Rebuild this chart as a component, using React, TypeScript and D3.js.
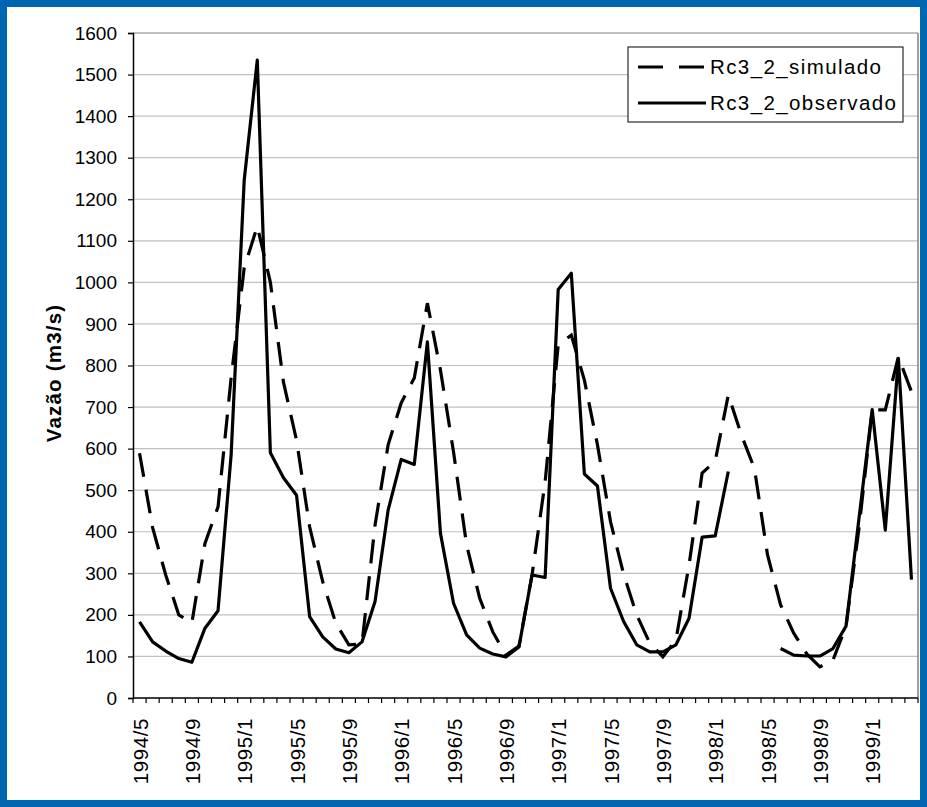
import React, { useRef, useEffect } from 'react';
import * as d3 from 'd3';

const months = [
  '1994/5', '1994/6', '1994/7', '1994/8', '1994/9', '1994/10', '1994/11', '1994/12',
  '1995/1', '1995/2', '1995/3', '1995/4', '1995/5', '1995/6', '1995/7', '1995/8',
  '1995/9', '1995/10', '1995/11', '1995/12', '1996/1', '1996/2', '1996/3', '1996/4',
  '1996/5', '1996/6', '1996/7', '1996/8', '1996/9', '1996/10', '1996/11', '1996/12',
  '1997/1', '1997/2', '1997/3', '1997/4', '1997/5', '1997/6', '1997/7', '1997/8',
  '1997/9', '1997/10', '1997/11', '1997/12', '1998/1', '1998/2', '1998/3', '1998/4',
  '1998/5', '1998/6', '1998/7', '1998/8', '1998/9', '1998/10', '1998/11', '1998/12',
  '1999/1', '1999/2', '1999/3', '1999/4',
];

const tickLabels = [
  '1994/5', '1994/9', '1995/1', '1995/5', '1995/9', '1996/1', '1996/5', '1996/9',
  '1997/1', '1997/5', '1997/9', '1998/1', '1998/5', '1998/9', '1999/1',
];

const simulado = [
  589, 410, 296, 200, 181, 372, 460, 770, 1035, 1135,
  1000, 760, 620, 412, 280, 180, 128, 130, 416, 609,
  710, 770, 950, 789, 592, 368, 240, 159, 103, 125,
  296, 520, 850, 873, 765, 609, 424, 298, 200, 132,
  99, 140, 320, 541, 570, 729, 633, 552, 344, 224,
  156, 106, 75, 91, 173, 411, 693, 693, 821, 737,
];

const observado = [
  183, 135, 113, 95, 86, 168, 210, 585, 1246, 1535,
  590, 530, 488, 196, 147, 118, 109, 135, 232, 452,
  574, 562, 857, 396, 228, 152, 120, 106, 99, 123,
  296, 290, 983, 1022, 539, 510, 264, 184, 128, 111,
  111, 128, 192, 387, 390, 545, null, null, null, 119,
  103, 101, 101, 119, 173, 435, 694, 404, 817, 285,
];

const yTicks = d3.range(0, 1700, 100);

const FONT = '"Liberation Sans", Arial, sans-serif';

const Chart = () => {
  const svgRef = useRef<SVGSVGElement>(null);

  useEffect(() => {
    const svg = d3.select(svgRef.current);
    svg.selectAll('*').remove();

    const left = 133, right = 918, top = 33, bottom = 698;

    // background
    svg.append('rect').attr('width', 927).attr('height', 807).attr('fill', '#0066b2');
    svg.append('rect').attr('x', 7).attr('y', 7).attr('width', 913).attr('height', 793).attr('fill', '#fff');

    const x = d3.scaleBand<string>().domain(months).range([left, right]).padding(0);
    const y = d3.scaleLinear().domain([0, 1600]).range([bottom, top]);
    const cx = (m: string) => (x(m) as number) + x.bandwidth() / 2;

    // grid
    svg.append('g')
      .selectAll('line')
      .data(yTicks.filter(d => d > 0))
      .enter().append('line')
      .attr('x1', left).attr('x2', right)
      .attr('y1', d => y(d)).attr('y2', d => y(d))
      .attr('stroke', d => (d === 1600 ? '#808080' : '#c0c0c0'))
      .attr('stroke-width', 1.2);

    svg.append('line')
      .attr('x1', right).attr('x2', right).attr('y1', top).attr('y2', bottom)
      .attr('stroke', '#808080').attr('stroke-width', 1.5);

    // y axis
    const yAxis = svg.append('g')
      .attr('transform', `translate(${left},0)`)
      .call(d3.axisLeft(y).tickValues(yTicks).tickSize(5).tickPadding(11).tickFormat(d3.format('d')));
    yAxis.select('.domain').attr('stroke', '#000').attr('stroke-width', 1.5);
    yAxis.selectAll('.tick line').attr('stroke', '#000').attr('stroke-width', 1.2);
    yAxis.selectAll('.tick text')
      .attr('font-family', FONT).attr('font-size', 19).attr('fill', '#000');

    // x axis
    svg.append('line')
      .attr('x1', left).attr('x2', right).attr('y1', bottom).attr('y2', bottom)
      .attr('stroke', '#000').attr('stroke-width', 1.5);
    const edges = months.map(m => x(m) as number).concat([right]);
    svg.append('g')
      .selectAll('line')
      .data(edges)
      .enter().append('line')
      .attr('x1', d => d).attr('x2', d => d)
      .attr('y1', bottom).attr('y2', bottom + 5)
      .attr('stroke', '#000').attr('stroke-width', 1.2);

    svg.append('g')
      .selectAll('text')
      .data(tickLabels)
      .enter().append('text')
      .attr('transform', d => `translate(${cx(d) + 1},718) rotate(-90)`)
      .attr('text-anchor', 'end')
      .attr('dy', '0.35em')
      .attr('font-family', FONT).attr('font-size', 20.5)
      .style('letter-spacing', '0.6px')
      .text(d => d);

    // y title
    svg.append('text')
      .attr('transform', 'translate(54,373) rotate(-90)')
      .attr('text-anchor', 'middle')
      .attr('dy', '0.35em')
      .attr('font-family', FONT).attr('font-size', 20.5).attr('font-weight', 'bold')
      .style('letter-spacing', '1.2px')
      .text('Vazão (m3/s)');

    // series
    const line = d3.line<number | null>()
      .defined(d => d !== null)
      .x((d, i) => cx(months[i]))
      .y(d => y(d as number));

    svg.append('path')
      .attr('d', line(simulado))
      .attr('fill', 'none').attr('stroke', '#000').attr('stroke-width', 3.2)
      .attr('stroke-dasharray', '24,13');

    svg.append('path')
      .attr('d', line(observado))
      .attr('fill', 'none').attr('stroke', '#000').attr('stroke-width', 3.2)
      .attr('stroke-linejoin', 'round');

    // legend
    const lg = svg.append('g');
    lg.append('rect')
      .attr('x', 628).attr('y', 47).attr('width', 275).attr('height', 75)
      .attr('fill', '#fff').attr('stroke', '#000').attr('stroke-width', 1);
    const items = [
      { name: 'Rc3_2_simulado', dash: '25,16', yy: 67 },
      { name: 'Rc3_2_observado', dash: null, yy: 103 },
    ];
    items.forEach(it => {
      lg.append('line')
        .attr('x1', 638).attr('x2', 706).attr('y1', it.yy).attr('y2', it.yy)
        .attr('stroke', '#000').attr('stroke-width', 3.2)
        .attr('stroke-dasharray', it.dash);
      lg.append('text')
        .attr('x', 710).attr('y', it.yy).attr('dy', '0.35em')
        .attr('font-family', FONT).attr('font-size', 20.5)
        .style('letter-spacing', '1.4px')
        .text(it.name);
    });
  }, []);

  return <svg ref={svgRef} width={927} height={807} />;
};

export default function App() {
  useEffect(() => {
    document.body.style.margin = '0';
  }, []);
  return (
    <div style={{ position: 'absolute', left: 0, top: 0 }}>
      <Chart />
    </div>
  );
}
